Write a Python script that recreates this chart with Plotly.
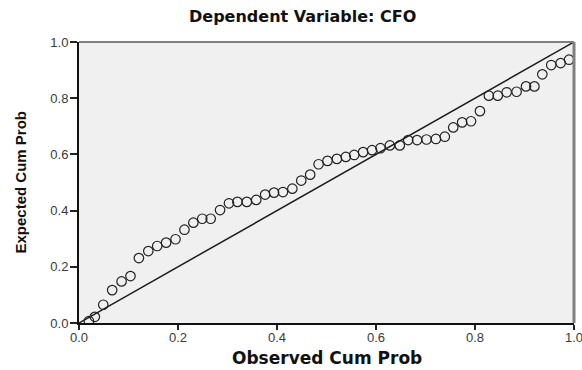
import plotly.graph_objects as go

# Observed vs expected cumulative probabilities (P-P plot)
observed_cum_prob = [
    0.020, 0.032, 0.049, 0.067, 0.086, 0.104, 0.121, 0.140, 0.158, 0.176,
    0.195, 0.213, 0.231, 0.249, 0.266, 0.285, 0.303, 0.320, 0.339, 0.358,
    0.376, 0.394, 0.412, 0.431, 0.449, 0.467, 0.484, 0.502, 0.521, 0.539,
    0.556, 0.574, 0.592, 0.609, 0.628, 0.648, 0.665, 0.683, 0.702, 0.721,
    0.739, 0.756, 0.774, 0.792, 0.810, 0.828, 0.846, 0.864, 0.884, 0.903,
    0.920, 0.936, 0.954, 0.973, 0.990,
]
expected_cum_prob = [
    0.007, 0.022, 0.065, 0.117, 0.148, 0.167, 0.231, 0.256, 0.274, 0.286,
    0.298, 0.332, 0.357, 0.371, 0.371, 0.402, 0.426, 0.431, 0.431, 0.438,
    0.457, 0.464, 0.466, 0.478, 0.507, 0.528, 0.565, 0.577, 0.584, 0.591,
    0.598, 0.608, 0.615, 0.622, 0.632, 0.632, 0.651, 0.651, 0.653, 0.655,
    0.663, 0.696, 0.714, 0.718, 0.754, 0.809, 0.809, 0.821, 0.823, 0.842,
    0.842, 0.885, 0.918, 0.925, 0.937,
]
reference_line = [0.0, 1.0]
tick_values = [0.0, 0.2, 0.4, 0.6, 0.8, 1.0]
tick_labels = ["0.0", "0.2", "0.4", "0.6", "0.8", "1.0"]

title_text = "Dependent Variable: CFO"
x_title = "Observed Cum Prob"
y_title = "Expected Cum Prob"

fig = go.Figure()
fig.add_trace(go.Scatter(
    x=reference_line, y=reference_line, mode="lines",
    line=dict(color="#1a1a1a", width=1.5), hoverinfo="skip", showlegend=False,
))
fig.add_trace(go.Scatter(
    x=observed_cum_prob, y=expected_cum_prob, mode="markers",
    marker=dict(symbol="circle-open", size=9.5, color="#222222", line=dict(width=1.2)),
    showlegend=False,
))

tick_font = dict(family="Liberation Sans, Arial, sans-serif", size=13, color="#3a3a3a")
fig.update_layout(
    template="none",
    width=582, height=370,
    margin=dict(l=79, r=8, t=42, b=47),
    paper_bgcolor="white", plot_bgcolor="#f0f0f0",
    title=dict(text=title_text, x=0.52, xref="container", xanchor="center",
               y=1 - 16 / 370, yref="container", yanchor="middle",
               font=dict(family="DejaVu Sans, sans-serif", size=16, color="#111111", weight="bold")),
    xaxis=dict(range=[0, 1], tickvals=tick_values, ticktext=tick_labels, automargin=False,
               showgrid=False, zeroline=False, showline=True, linecolor="#111111", linewidth=2,
               ticks="outside", ticklen=5, tickcolor="#222222", tickwidth=1.5,
               ticklabelstandoff=-4, ticklabeloverflow="allow", tickfont=tick_font),
    yaxis=dict(range=[0, 1], tickvals=tick_values, ticktext=tick_labels, automargin=False,
               showgrid=False, zeroline=False, showline=True, linecolor="#111111", linewidth=2,
               ticks="outside", ticklen=7, tickcolor="#222222", tickwidth=1.5,
               ticklabelstandoff=-1, ticklabeloverflow="allow", tickfont=tick_font),
    shapes=[
        dict(type="line", xref="x domain", yref="y domain", x0=0, x1=1, y0=1, y1=1,
             line=dict(color="#808080", width=2)),
        dict(type="line", xref="x domain", yref="y domain", x0=1, x1=1, y0=0, y1=1,
             line=dict(color="#808080", width=3)),
    ],
    annotations=[
        dict(text=x_title, xref="paper", yref="paper", x=0.5, y=0, yshift=-35,
             xanchor="center", yanchor="middle", showarrow=False,
             font=dict(family="DejaVu Sans, sans-serif", size=17, color="#111111", weight="bold")),
        dict(text=y_title, xref="paper", yref="paper", x=0, xshift=-59, y=0.5,
             xanchor="center", yanchor="middle", textangle=-90, showarrow=False,
             font=dict(family="Liberation Sans Narrow, Arial Narrow, sans-serif", size=15,
                       color="#111111", weight="bold")),
    ],
)

fig.write_html("out.html", config={"displayModeBar": False},
               post_script="document.body.style.margin='0';")
